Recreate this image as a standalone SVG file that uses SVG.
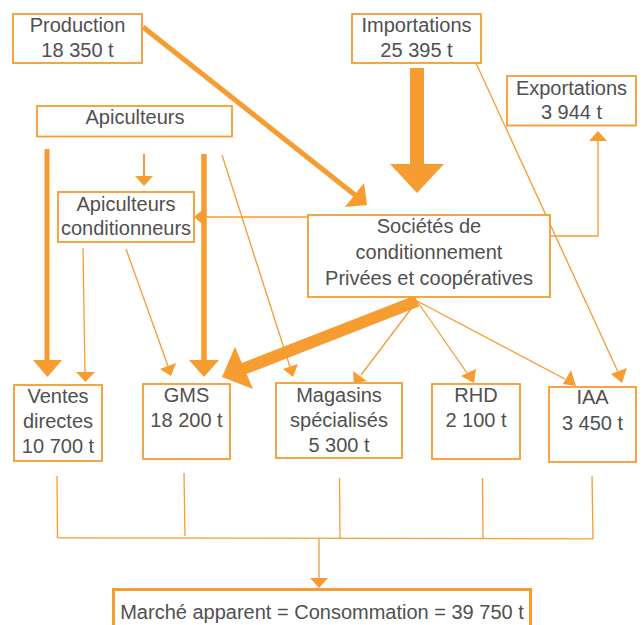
<svg xmlns="http://www.w3.org/2000/svg" width="644" height="625" viewBox="0 0 644 625">
<style>
.box{fill:#fff;stroke:#F69C31;stroke-width:1.8}
.t{font-family:"Liberation Sans",Arial,sans-serif;font-size:20px;fill:#505050;text-anchor:middle}
.thin{stroke:#F69C31;stroke-width:1.3;fill:none}
.hd{fill:#F69C31;stroke:none}
.thick{stroke:#F69C31;fill:none}
</style>
<rect width="644" height="625" fill="#fff"/>
<g id="connectors">
  <line class="thick" x1="143" y1="27" x2="355" y2="195" stroke-width="5"/>
  <polygon class="hd" points="345,207 364,183 367,205"/>
  <rect class="hd" x="410" y="68" width="14" height="97"/>
  <polygon class="hd" points="390,164 444,164 417,193"/>
  <line class="thin" x1="476" y1="63" x2="618" y2="372"/>
  <polygon class="hd" points="611,374 627,368 622,383"/>
  <polyline class="thin" points="551,236 598,236 598,140"/>
  <polygon class="hd" points="589,141 607,141 598,131"/>
  <line class="thick" x1="47" y1="149" x2="47" y2="362" stroke-width="5"/>
  <polygon class="hd" points="33,360 62,360 47.5,377"/>
  <line class="thick" x1="204" y1="154" x2="204" y2="362" stroke-width="5.5"/>
  <polygon class="hd" points="189,360 219,360 204,377"/>
  <line class="thick" x1="144" y1="154" x2="144" y2="177" stroke-width="2"/>
  <polygon class="hd" points="135,176 153,176 144,186"/>
  <line class="thin" x1="222" y1="155" x2="290" y2="367"/>
  <polygon class="hd" points="283,369 298,364 293,377"/>
  <line class="thin" x1="308" y1="217" x2="203" y2="217"/>
  <polygon class="hd" points="204,208.5 204,225.5 194,217"/>
  <line class="thin" x1="83" y1="248" x2="85" y2="373"/>
  <polygon class="hd" points="76,372 95,372 85.5,382"/>
  <line class="thin" x1="126" y1="249" x2="168" y2="366"/>
  <polygon class="hd" points="160,369 176,363 171,376"/>
  <line class="thick" x1="417" y1="301" x2="243" y2="369" stroke-width="12"/>
  <polygon class="hd" points="235,347 253,389 222,377"/>
  <line class="thin" x1="417" y1="301" x2="361" y2="375"/>
  <polygon class="hd" points="353,371 367,381 354,383"/>
  <line class="thin" x1="417" y1="301" x2="467" y2="373"/>
  <polygon class="hd" points="461,376 476,369 474,383"/>
  <line class="thin" x1="417" y1="301" x2="565" y2="379"/>
  <polygon class="hd" points="563,384 571,370 576,386"/>
  <line class="thin" x1="57" y1="476" x2="57.5" y2="538"/>
  <line class="thin" x1="184" y1="473" x2="185" y2="536"/>
  <line class="thin" x1="339.5" y1="478" x2="340" y2="538.5"/>
  <line class="thin" x1="482.5" y1="478" x2="483" y2="538.5"/>
  <line class="thin" x1="592" y1="476" x2="593" y2="539"/>
  <line class="thin" x1="57.5" y1="537.8" x2="593" y2="538.8"/>
  <line class="thin" x1="319" y1="538" x2="319" y2="579"/>
  <polygon class="hd" points="310,578 328,578 319,588"/>
</g>
<g id="production">
  <rect class="box" x="13" y="14" width="129" height="49"/>
  <text class="t" x="77.5" y="32">Production</text>
  <text class="t" x="77.5" y="57">18 350 t</text>
</g>
<g id="importations">
  <rect class="box" x="352" y="14" width="129" height="49"/>
  <text class="t" x="416.5" y="32">Importations</text>
  <text class="t" x="416.5" y="57">25 395 t</text>
</g>
<g id="exportations">
  <rect class="box" x="507" y="76" width="129" height="49.5"/>
  <text class="t" x="571.5" y="95">Exportations</text>
  <text class="t" x="571.5" y="119">3 944 t</text>
</g>
<g id="apiculteurs">
  <rect class="box" x="37" y="106" width="195" height="30.5"/>
  <text class="t" x="135" y="124">Apiculteurs</text>
</g>
<g id="apiculteurs-conditionneurs">
  <rect class="box" x="58" y="192" width="136" height="50"/>
  <text class="t" x="126" y="211">Apiculteurs</text>
  <text class="t" x="126" y="235">conditionneurs</text>
</g>
<g id="societes">
  <rect class="box" x="308" y="215" width="242" height="82"/>
  <text class="t" x="429" y="233">Sociétés de</text>
  <text class="t" x="429" y="259">conditionnement</text>
  <text class="t" x="429" y="285">Privées et coopératives</text>
</g>
<g id="ventes">
  <rect class="box" x="14" y="385" width="88" height="76"/>
  <text class="t" x="58" y="403">Ventes</text>
  <text class="t" x="58" y="428">directes</text>
  <text class="t" x="58" y="453">10 700 t</text>
</g>
<g id="gms">
  <rect class="box" x="143" y="384" width="87" height="75"/>
  <text class="t" x="186.5" y="402">GMS</text>
  <text class="t" x="186.5" y="427">18 200 t</text>
</g>
<g id="magasins">
  <rect class="box" x="276" y="383" width="126" height="75"/>
  <text class="t" x="339" y="402">Magasins</text>
  <text class="t" x="339" y="427">spécialisés</text>
  <text class="t" x="339" y="452">5 300 t</text>
</g>
<g id="rhd">
  <rect class="box" x="432" y="384" width="88" height="75"/>
  <text class="t" x="476" y="402">RHD</text>
  <text class="t" x="476" y="427">2 100 t</text>
</g>
<g id="iaa">
  <rect class="box" x="549" y="387" width="87" height="75"/>
  <text class="t" x="592.5" y="404">IAA</text>
  <text class="t" x="592.5" y="430">3 450 t</text>
</g>
<g id="marche">
  <rect x="113.5" y="589.5" width="417" height="45" fill="#fff" stroke="#F69C31" stroke-width="3"/>
  <text class="t" x="322" y="619">Marché apparent = Consommation = 39 750 t</text>
</g>
</svg>
